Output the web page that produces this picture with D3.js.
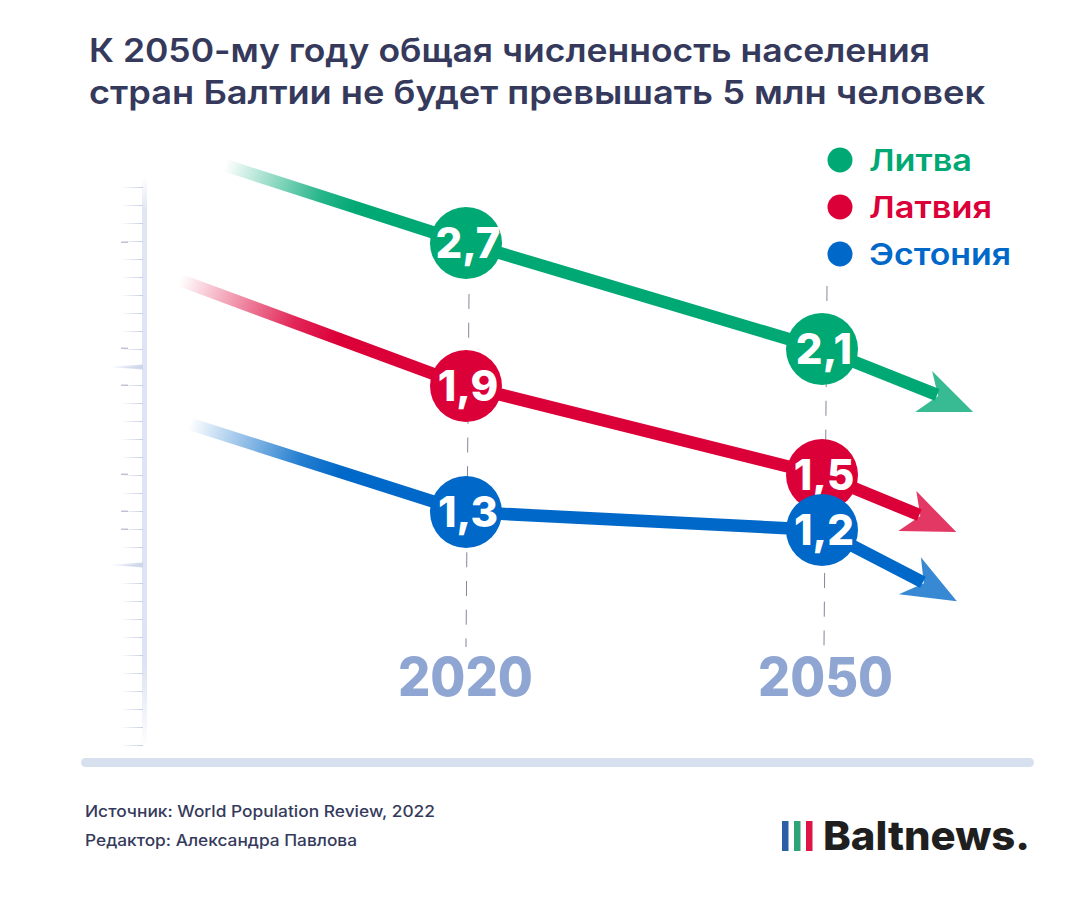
<!DOCTYPE html>
<html><head><meta charset="utf-8">
<script src="https://cdn.jsdelivr.net/npm/d3@7"></script>
<style>html,body{margin:0;padding:0;background:#fff}svg{display:block}text{font-family:Inter,"Noto Sans",sans-serif}</style>
</head><body><svg id="c" width="1080" height="911"></svg>
<script>
const titleLines = ["К 2050-му году общая численность населения","стран Балтии не будет превышать 5 млн человек"];
const sourceLines = ["Источник: World Population Review, 2022","Редактор: Александра Павлова"];
const years = [2020, 2050];
const legendNames = ["Литва","Латвия","Эстония"];
const colors = ["#00a874","#dc0039","#0068c8"];
const litvaValues = [2.7, 2.1];
const latviaValues = [1.9, 1.5];
const estoniaValues = [1.3, 1.2];
// line tails (fading start) and arrow ends: [year, value]
const litvaEnds = [[1999.7, 3.14], [2059.7, 1.86]];
const latviaEnds = [[1995.9, 2.49], [2058.2, 1.283]];
const estoniaEnds = [[1996.7, 1.73], [2058.5, 0.91]];
const valueMarks = [2.7, 2.1, 1.9, 1.5, 1.3, 1.2];
const tickPositions = d3.range(0, 32);
const longTicks = [10, 21];

const svg = d3.select("#c");
const defs = svg.append("defs");
const x = d3.scaleLinear().domain([2020, 2050]).range([466, 822]);
const labelX = d3.scaleOrdinal().domain(years).range([465.5, 825.5]);
const guideX = d3.scaleOrdinal().domain(years).range([466, 824]);
// the source axis is not proportional: piecewise scale through the labelled values
const y = d3.scaleLinear().domain([1.2,1.3,1.5,1.9,2.1,2.7]).range([530,512,475,386,349,243]);
const tickY = d3.scaleLinear().domain([0, 31]).range([187, 745]);

const fmt = v => String(v).replace(".", ",");

// title
const titleW = [841, 896];
svg.append("g").selectAll("text").data(titleLines).join("text")
  .attr("x", 89).attr("y", (d,i)=>62+i*42)
  .attr("textLength",(d,i)=>titleW[i]).attr("lengthAdjust","spacingAndGlyphs")
  .attr("font-size", 33).attr("font-weight", 600).attr("fill", "#353a5c").text(d=>d);

// left ruler
const vg = defs.append("linearGradient").attr("id","bar").attr("x1",0).attr("x2",0).attr("y1",0).attr("y2",1);
[[0,0],[0.06,0.9],[0.85,1],[1,0]].forEach(s=>vg.append("stop").attr("offset",s[0]).attr("stop-color","#dce3f3").attr("stop-opacity",s[1]));
const hg = defs.append("linearGradient").attr("id","tick").attr("gradientUnits","userSpaceOnUse").attr("x1",-22).attr("x2",0).attr("y1",0).attr("y2",0);
[[0,0],[1,1]].forEach(s=>hg.append("stop").attr("offset",s[0]).attr("stop-color","#c6cee4").attr("stop-opacity",s[1]));
const lg = defs.append("linearGradient").attr("id","ltick").attr("gradientUnits","userSpaceOnUse").attr("x1",107).attr("x2",143).attr("y1",0).attr("y2",0);
[[0,0],[1,1]].forEach(s=>lg.append("stop").attr("offset",s[0]).attr("stop-color","#ccd5ea").attr("stop-opacity",s[1]));
svg.append("rect").attr("x",142).attr("y",tickY(0)-10).attr("width",5).attr("height",tickY(31)-tickY(0)+14).attr("fill","url(#bar)");
const axis = d3.axisLeft(tickY).tickValues(tickPositions).tickSize(21).tickFormat("");
const ag = svg.append("g").attr("transform","translate(143,0)").call(axis);
ag.select(".domain").remove();
ag.selectAll("line").attr("stroke","url(#tick)").attr("stroke-width",1);
svg.append("g").selectAll("path").data(longTicks).join("path")
  .attr("d",d=>`M107,${tickY(d)}L143,${tickY(d)-2.5}L143,${tickY(d)+2.5}Z`).attr("fill","url(#ltick)");
svg.append("g").selectAll("line").data(valueMarks).join("line")
  .attr("x1",121).attr("x2",128).attr("y1",d=>y(d)-0.8).attr("y2",d=>y(d)-0.8)
  .attr("stroke","#a6a8be").attr("stroke-width",1);

// dashed guides
const gg = svg.append("g");
years.forEach((yr,i)=>{
  gg.append("line").attr("x1",guideX(yr)+3).attr("x2",guideX(yr)).attr("y1",[294,286][i]).attr("y2",647)
    .attr("stroke","#83889a").attr("stroke-width",1).attr("stroke-dasharray","15 13.7");
});

// bottom bar
svg.append("rect").attr("x",81).attr("y",758).attr("width",953).attr("height",9).attr("rx",4.5).attr("fill","#d7e0ee");

// series
const series = [
 {values:litvaValues, ends:litvaEnds, color:colors[0], head:[[-5,-24],[36,17],[-22,17],[1,1]]},
 {values:latviaValues, ends:latviaEnds, color:colors[1], head:[[-3,-24],[37,17],[-21,16],[1,1]]},
 {values:estoniaValues, ends:estoniaEnds, color:colors[2], head:[[-2,-25],[34,19],[-24,12],[1,1]]}
];
const line = d3.line().x(d=>x(d[0])).y(d=>y(d[1]));
series.forEach((s,i)=>{
  const pts = [s.ends[0], ...years.map((yr,k)=>[yr,s.values[k]]), s.ends[1]];
  const g = defs.append("linearGradient").attr("id","fade"+i).attr("gradientUnits","userSpaceOnUse")
    .attr("x1",x(pts[0][0])).attr("y1",y(pts[0][1])).attr("x2",x(pts[1][0])).attr("y2",y(pts[1][1]));
  [[0,0],[0.4,0.85],[0.55,1],[1,1]].forEach(st=>g.append("stop").attr("offset",st[0]).attr("stop-color",s.color).attr("stop-opacity",st[1]));
  svg.append("path").attr("d",line(pts.slice(0,2))).attr("stroke","url(#fade"+i+")").attr("stroke-width",12.5).attr("fill","none");
  svg.append("path").attr("d",line(pts.slice(1))).attr("stroke",s.color).attr("stroke-width",12.5).attr("fill","none").attr("stroke-linejoin","round");
  const ex=x(s.ends[1][0]), ey=y(s.ends[1][1]);
  svg.append("path").attr("d","M"+s.head.map(p=>[ex+p[0],ey+p[1]].join(",")).join("L")+"Z").attr("fill",s.color).attr("fill-opacity",0.78);
});

// circles + labels (red first so blue overlaps it at 2050)
series.forEach(s=>{
  const g = svg.append("g");
  g.selectAll("circle").data(s.values).join("circle")
    .attr("cx",(d,k)=>x(years[k])).attr("cy",d=>y(d)).attr("r",36).attr("fill",s.color);
  g.selectAll("text").data(s.values).join("text")
    .attr("x",(d,k)=>x(years[k])+2).attr("y",d=>y(d)+15).attr("text-anchor","middle")
    .attr("font-size",42).attr("font-weight",800).attr("fill","#fff").text(fmt);
});

// legend
const legendW = [103, 123, 142];
const lgd = svg.append("g").selectAll("g").data(legendNames).join("g").attr("transform",(d,i)=>`translate(840,${160+i*47})`);
lgd.append("circle").attr("r",12.5).attr("fill",(d,i)=>colors[i]);
lgd.append("text").attr("x",29).attr("y",11).attr("font-size",30).attr("font-weight",600)
  .attr("textLength",(d,i)=>legendW[i]).attr("lengthAdjust","spacingAndGlyphs")
  .attr("fill",(d,i)=>colors[i]).text(d=>d);

// year labels
svg.append("g").selectAll("text").data(years).join("text")
  .attr("x",d=>labelX(d)).attr("y",696).attr("text-anchor","middle")
  .attr("textLength",135).attr("lengthAdjust","spacingAndGlyphs")
  .attr("font-size",54).attr("font-weight",800).attr("fill","#8fa6d3").text(d=>d);

// footer
const sourceW = [350, 272];
svg.append("g").selectAll("text").data(sourceLines).join("text")
  .attr("x",85).attr("y",(d,i)=>817+i*29).attr("font-size",15.5).attr("font-weight",500)
  .attr("textLength",(d,i)=>sourceW[i]).attr("lengthAdjust","spacingAndGlyphs")
  .attr("fill","#353a5c").text(d=>d);

// logo
const logo = svg.append("g");
["#2f5ea8","#2fa37a","#dc1447"].forEach((c,i)=>logo.append("rect").attr("x",782+i*12).attr("y",821).attr("width",6.5).attr("height",30).attr("fill",c));
logo.append("text").attr("x",823).attr("y",850).attr("font-size",40).attr("font-weight",800)
  .attr("textLength",207).attr("lengthAdjust","spacingAndGlyphs").attr("fill","#1f1f1f").text("Baltnews.");
</script></body></html>
